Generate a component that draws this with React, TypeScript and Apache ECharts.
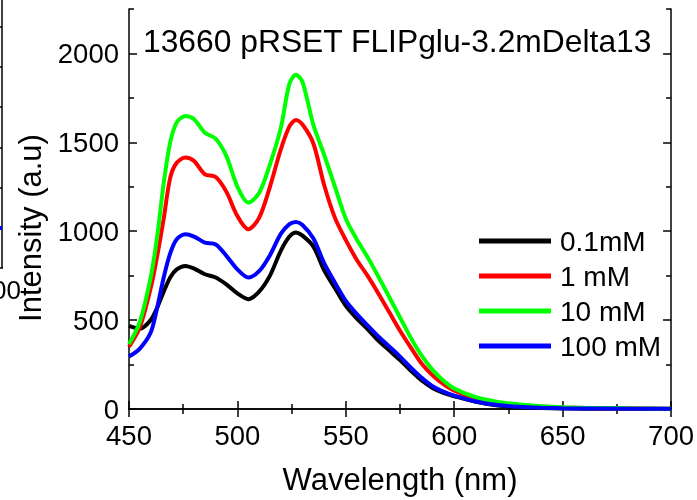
import React, { useEffect, useRef } from "react";
import * as echarts from "echarts";

const WAVELENGTH = [450, 455, 460, 463, 466, 469, 472, 476, 480, 485, 490, 495, 500, 505, 510, 515, 520, 524, 527, 530, 535, 540, 545, 550, 555, 560, 565, 570, 575, 580, 585, 590, 595, 600, 610, 620, 630, 640, 650, 660, 680, 700];

const I_01mM = [468, 452, 500, 570, 660, 740, 785, 805, 790, 758, 740, 700, 650, 618, 660, 750, 890, 970, 993, 975, 915, 780, 680, 580, 510, 450, 385, 330, 275, 215, 160, 118, 90, 72, 40, 20, 10, 6, 3, 2, 1, 0];
const I_1mM = [350, 460, 680, 860, 1070, 1300, 1385, 1414, 1395, 1320, 1305, 1220, 1085, 1011, 1075, 1250, 1460, 1590, 1625, 1600, 1495, 1260, 1075, 950, 840, 750, 650, 545, 440, 345, 255, 190, 140, 103, 58, 35, 22, 14, 9, 6, 3, 2];
const I_10mM = [365, 490, 740, 970, 1270, 1500, 1612, 1648, 1630, 1554, 1520, 1420, 1250, 1161, 1215, 1375, 1580, 1830, 1880, 1840, 1600, 1430, 1250, 1070, 955, 855, 745, 630, 515, 400, 300, 220, 160, 115, 66, 40, 25, 16, 10, 7, 4, 2];
const I_100mM = [295, 340, 430, 570, 740, 875, 955, 983, 970, 936, 925, 860, 785, 740, 775, 865, 985, 1040, 1052, 1035, 960, 820, 710, 608, 535, 470, 408, 352, 295, 232, 175, 128, 98, 75, 42, 22, 12, 7, 4, 3, 2, 1];

const SERIES_NAMES = ["0.1mM", "1 mM", "10 mM", "100 mM"];
const SERIES_VALUES = [I_01mM, I_1mM, I_10mM, I_100mM];
const SERIES_COLORS = ["#000000", "#ff0000", "#00ff00", "#0000ff"];

const Y_MAJOR = [0, 500, 1000, 1500, 2000];
const Y_MINOR = [250, 750, 1250, 1750, 2250];

const TITLE = "13660 pRSET FLIPglu-3.2mDelta13";
const X_NAME = "Wavelength (nm)";
const Y_NAME = "Intensity (a.u)";
const FONT = "'Liberation Sans', Arial, sans-serif";

export default function App() {
  const ref = useRef<HTMLDivElement>(null);
  useEffect(() => {
    if (!ref.current) return;
    const chart = echarts.init(ref.current, undefined, { renderer: "svg" });
    const axisLine = { show: true, lineStyle: { color: "#000", width: 1.5 } };
    const baseX = {
      type: "value" as const,
      min: 450,
      max: 700,
      interval: 50,
      splitLine: { show: false },
      axisLine,
      axisTick: { show: true, inside: true, length: 8, lineStyle: { color: "#000", width: 1.5 } },
      minorTick: { show: true, splitNumber: 2, length: 5, lineStyle: { color: "#000", width: 1.5 } },
    };
    const baseY = {
      type: "value" as const,
      min: 0,
      max: 2250,
      interval: 250,
      splitLine: { show: false },
      axisLine,
    };
    const majorTick = { show: true, inside: true, length: 8, customValues: Y_MAJOR, lineStyle: { color: "#000", width: 1.5 } };
    const minorTickY = { show: true, inside: true, length: 5, customValues: Y_MINOR, lineStyle: { color: "#000", width: 1.5 } };
    chart.setOption({
      animation: false,
      textStyle: { fontFamily: FONT },
      title: {
        text: TITLE,
        left: 143,
        top: 25,
        padding: 0,
        textStyle: { fontSize: 31.8, fontWeight: "normal", color: "#000", fontFamily: FONT },
      },
      grid: { left: 129, right: 24, top: 9, bottom: 90, containLabel: false },
      legend: {
        data: SERIES_NAMES,
        orient: "vertical",
        left: 479,
        top: 227,
        padding: 0,
        itemWidth: 72,
        itemHeight: 5,
        itemGap: 7,
        icon: "rect",
        textStyle: { fontSize: 28, color: "#000", fontFamily: FONT, padding: [0, 0, 0, 4] },
      },
      xAxis: [
        {
          ...baseX,
          position: "bottom",
          name: X_NAME,
          nameLocation: "middle",
          nameGap: 55,
          nameTextStyle: { fontSize: 31, color: "#000", fontFamily: FONT },
          axisLabel: { show: true, fontSize: 27.5, color: "#000", margin: 12, fontFamily: FONT },
        },
        { ...baseX, position: "top", axisLabel: { show: false } },
      ],
      yAxis: [
        {
          ...baseY,
          position: "left",
          axisTick: majorTick,
          axisLabel: {
            show: true,
            customValues: Y_MAJOR,
            fontSize: 27.5,
            color: "#000",
            margin: 10,
            fontFamily: FONT,
            formatter: (v: number) => String(v),
          },
        },
        { ...baseY, position: "right", axisTick: majorTick, axisLabel: { show: false } },
        { ...baseY, position: "left", axisLine: { show: false }, axisTick: minorTickY, axisLabel: { show: false } },
        { ...baseY, position: "right", axisLine: { show: false }, axisTick: minorTickY, axisLabel: { show: false } },
      ],
      series: SERIES_NAMES.map((name, k) => ({
        name,
        type: "line",
        xAxisIndex: 0,
        yAxisIndex: 0,
        smooth: 0.3,
        showSymbol: false,
        symbol: "none",
        lineStyle: { color: SERIES_COLORS[k], width: 4 },
        itemStyle: { color: SERIES_COLORS[k] },
        data: WAVELENGTH.map((w, i) => [w, SERIES_VALUES[k][i]]),
      })),
      graphic: [
        { type: "line", shape: { x1: 2, y1: 0, x2: 2, y2: 268 }, style: { stroke: "#000", lineWidth: 1.5 } },
        ...[27, 67, 107, 148, 188, 228].map((y) => ({
          type: "line",
          shape: { x1: 0, y1: y, x2: 2, y2: y },
          style: { stroke: "#000", lineWidth: 1.5 },
        })),
        { type: "line", shape: { x1: 0, y1: 268, x2: 3, y2: 268 }, style: { stroke: "#000", lineWidth: 1.5 } },
        { type: "rect", shape: { x: 0, y: 226, width: 2, height: 4 }, style: { fill: "#0000ff" } },
        {
          type: "text",
          x: 21,
          y: 290,
          style: { text: "00", fontSize: 26, fontFamily: FONT, fill: "#000", align: "right", verticalAlign: "middle" },
        },
        {
          type: "text",
          x: 30,
          y: 228,
          rotation: Math.PI / 2,
          style: { text: Y_NAME, fontSize: 31, fontFamily: FONT, fill: "#000", align: "center", verticalAlign: "middle" },
        },
      ],
    });
    return () => chart.dispose();
  }, []);
  return <div ref={ref} style={{ position: "fixed", left: 0, top: 0, width: 697, height: 500 }} />;
}
